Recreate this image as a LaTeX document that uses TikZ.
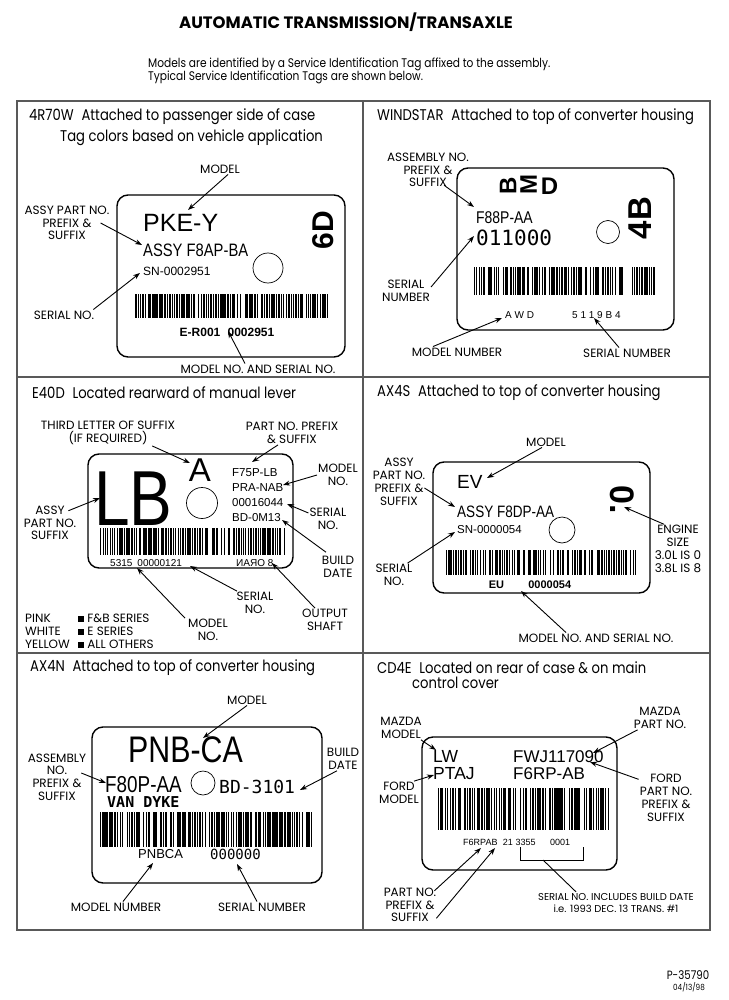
\documentclass[tikz,border=0pt]{standalone}
\usepackage{fontspec}
\usepackage{graphicx}
\usetikzlibrary{arrows.meta}
\setmainfont{Poppins}[FakeStretch=0.85]
\newfontfamily\etiqfont{Poppins}
\newfontfamily\placafont{Liberation Sans}
\newfontfamily\placaestrecha{Liberation Sans}[FakeStretch=0.82]
\newfontfamily\placamono{DejaVu Sans Mono}
\newcommand{\tam}[1]{\fontsize{#1}{#1}\selectfont}
% barras: x1, y1, x2, y2, semilla
\newcommand{\barras}[5]{%
  \pgfmathsetseed{#5}%
  \pgfmathtruncatemacro{\nbar}{(#3-#1)/1.7}%
  \foreach \k in {0,...,\nbar}{%
    \pgfmathsetmacro{\bx}{#1+\k*1.7}%
    \pgfmathsetmacro{\bw}{0.5+1.1*rnd}%
    \pgfmathtruncatemacro{\pon}{rnd<0.82 ? 1 : 0}%
    \ifnum\pon=1 \fill (\bx,#2) rectangle ({\bx+\bw},#4);\fi
  }%
}
\begin{document}
\begin{tikzpicture}[x=1pt, y=-1pt,
    marco/.style={draw=black!65, line width=2pt},
    placa/.style={draw, line width=1.4pt, rounded corners=11pt},
    agujero/.style={draw, circle, line width=0.7pt, inner sep=0pt},
    encabezado/.style={anchor=west, inner sep=0pt, font=\fontsize{15.5}{17}\selectfont},
    etiqueta/.style={align=center, inner sep=1pt, font=\etiqfont\fontsize{12}{12.8}\selectfont},
    texto/.style={anchor=west, inner sep=0pt},
    flecha/.style={-{Stealth[length=7pt,width=5pt]}, line width=0.9pt}
]
\useasboundingbox (0,0) rectangle (728,1000);

\node[font=\etiqfont\bfseries\fontsize{16.5}{18}\selectfont] (titulo) at (346,22) {AUTOMATIC TRANSMISSION/TRANSAXLE};
\node[texto, align=left, font=\fontsize{12.5}{13}\selectfont] (intro) at (148,70.5) {Models are identified by a Service Identification Tag affixed to the assembly.\\Typical Service Identification Tags are shown below.};

% marco
\draw[marco] (17,101) rectangle (710,930);
\draw[marco] (363,101) -- (363,930);
\draw[marco] (17,377) -- (710,377);
\draw[marco] (17,653) -- (710,653);

% 4R70W
\node[encabezado] (h1) at (29,117) {4R70W\hspace{0.5em}Attached to passenger side of case};
\node[encabezado] (h1b) at (60,138) {Tag colors based on vehicle application};
\node[placa, minimum width=228pt, minimum height=162pt] (t1) at (231,276) {};
\node[texto, font=\placafont\tam{25}] (pkey) at (143,223) {PKE-Y};
\node[texto, font=\placaestrecha\tam{18}] (assy1) at (143,250) {ASSY F8AP-BA};
\node[texto, font=\placafont\tam{12}] (sn1) at (143,271) {SN-0002951};
\node[agujero, minimum size=30pt] (ag1) at (268,268) {};
\node[rotate=90, inner sep=0pt, font=\placafont\bfseries\tam{30}] (seisd) at (323,230) {6D};
\barras{133}{294}{328}{318}{11}
\node[font=\placafont\bfseries\tam{12}, inner sep=0pt] (cod1) at (227,332) {E-R001\hspace{0.6em}0002951};
\node[etiqueta] (mod1) at (220,169) {MODEL};
\node[etiqueta] (apn1) at (67,223) {ASSY PART NO.\\PREFIX \&\\SUFFIX};
\node[etiqueta] (ser1) at (64,315) {SERIAL NO.};
\node[etiqueta] (mns1) at (258,369) {MODEL NO. AND SERIAL NO.};
\coordinate (p1a) at (188,210);
\coordinate (p1b) at (142,245);
\coordinate (p1c) at (140,273);
\coordinate (p1d) at (228,331);
\draw[flecha] ([xshift=8pt]mod1.south) -- (p1a);
\draw[flecha] ([xshift=-10pt]apn1.east) -- (p1b);
\draw[flecha] ([xshift=-2pt]ser1.north east) -- (p1c);
\draw[flecha] ([xshift=-13pt]mns1.north) -- (p1d);

% WINDSTAR
\node[encabezado] (h2) at (377,117) {WINDSTAR\hspace{0.5em}Attached to top of converter housing};
\node[placa, minimum width=217pt, minimum height=162pt] (t2) at (565.5,249) {};
\node[inner sep=0pt, font=\placafont\bfseries\tam{24}] (bmd) at (529,185) {\rotatebox{90}{B}\,\rotatebox{90}{M}\,D};
\node[rotate=90, inner sep=0pt, font=\placafont\bfseries\tam{33}] (cuatrob) at (640,218) {4B};
\node[texto, font=\placaestrecha\tam{17}] (f88) at (476,218) {F88P-AA};
\node[texto, font=\placamono\tam{21}] (num2) at (476,238) {011000};
\node[agujero, minimum size=23pt] (ag2) at (608,232) {};
\barras{474}{267}{657}{295}{23}
\node[texto, font=\placafont\tam{10}] (awd) at (505,315) {A W D};
\node[texto, font=\placafont\tam{10}] (sn2) at (572,315) {5 1 1 9 B 4};
\node[etiqueta] (asm2) at (428,170) {ASSEMBLY NO.\\PREFIX \&\\SUFFIX};
\node[etiqueta] (ser2) at (406,291) {SERIAL\\NUMBER};
\node[etiqueta] (mnum2) at (457,352) {MODEL NUMBER};
\node[etiqueta] (snum2) at (627,353) {SERIAL NUMBER};
\coordinate (p2a) at (474,207);
\coordinate (p2b) at (474,236);
\coordinate (p2c) at (502,318);
\coordinate (p2d) at (594,318);
\draw[flecha] ([xshift=-26pt,yshift=3pt]asm2.south east) -- (p2a);
\draw[flecha] ([yshift=4pt]ser2.east) -- (p2b);
\draw[flecha] ([xshift=-24pt]mnum2.north) -- (p2c);
\draw[flecha] ([xshift=-8pt]snum2.north) -- (p2d);

% E40D
\node[encabezado] (h3) at (32,393) {E40D\hspace{0.5em}Located rearward of manual lever};
\node[placa, minimum width=205pt, minimum height=114pt] (t3) at (190.5,511) {};
\node[texto, font=\placaestrecha\tam{78}] (lb) at (94,499) {LB};
\node[inner sep=0pt, font=\placafont\tam{33}] (letraa) at (200,470) {A};
\node[agujero, minimum size=31pt] (ag3) at (202,503) {};
\node[texto, align=left, font=\placafont\fontsize{11.5}{15}\selectfont] (datos3) at (232,495.5) {F75P-LB\\PRA-NAB\\00016044\\BD-0M13};
\barras{100}{528}{285}{555}{37}
\node[texto, font=\placafont\tam{10}] (cod3) at (110,563) {5315\hspace{0.5em}00000121};
\node[texto, font=\placafont\tam{10}] (eje3) at (236,563) {\reflectbox{8 ORAN}};
\node[etiqueta] (tl3) at (108,433) {THIRD LETTER OF SUFFIX\\(IF REQUIRED)};
\node[etiqueta] (pp3) at (292,433) {PART NO. PREFIX\\\& SUFFIX};
\node[etiqueta] (mod3) at (338,475) {MODEL\\NO.};
\node[etiqueta] (ser3) at (328,519) {SERIAL\\NO.};
\node[etiqueta] (bd3) at (338,567) {BUILD\\DATE};
\node[etiqueta] (aps3) at (50,523) {ASSY\\PART NO.\\SUFFIX};
\node[etiqueta] (ser3b) at (255,603) {SERIAL\\NO.};
\node[etiqueta] (mod3b) at (208,630) {MODEL\\NO.};
\node[etiqueta] (os3) at (325,620) {OUTPUT\\SHAFT};
\node[texto, align=left, font=\etiqfont\fontsize{12}{13}\selectfont] (col3) at (25,631) {PINK\\WHITE\\YELLOW};
\node[texto, align=left, font=\etiqfont\fontsize{12}{13}\selectfont] (sr3) at (78,631) {\rule{6pt}{6pt} F\&B SERIES\\\rule{6pt}{6pt} E SERIES\\\rule{6pt}{6pt} ALL OTHERS};
\coordinate (p3a) at (190,463);
\coordinate (p3b) at (252,462);
\coordinate (p3c) at (283,485);
\coordinate (p3d) at (287,504);
\coordinate (p3e) at (282,520);
\coordinate (p3f) at (100,498);
\coordinate (p3g) at (190,566);
\coordinate (p3h) at (137,568);
\coordinate (p3i) at (272,563);
\draw[flecha] ([xshift=-24pt]tl3.south east) -- (p3a);
\draw[flecha] ([xshift=-14pt]pp3.south) -- (p3b);
\draw[flecha] (mod3.west) -- (p3c);
\draw[flecha] ([yshift=6pt]ser3.west) -- (p3d);
\draw[flecha] ([xshift=-12pt,yshift=3pt]bd3.north) -- (p3e);
\draw[flecha] ([xshift=-9pt,yshift=-6pt]aps3.north east) -- (p3f);
\draw[flecha] ([xshift=-18pt]ser3b.north) -- (p3g);
\draw[flecha] ([xshift=-23pt]mod3b.north) -- (p3h);
\draw[flecha] ([xshift=-10pt]os3.north) -- (p3i);

% AX4S
\node[encabezado] (h4) at (377,393) {AX4S\hspace{0.5em}Attached to top of converter housing};
\node[placa, minimum width=217pt, minimum height=131pt] (t4) at (541.5,527.5) {};
\node[texto, font=\placafont\tam{19}] (ev) at (457,482) {EV};
\node[texto, font=\placaestrecha\tam{16.5}] (assy4) at (457,512) {ASSY F8DP-AA};
\node[texto, font=\placafont\tam{11.5}] (sn4) at (457,530) {SN-0000054};
\node[agujero, minimum size=26pt] (ag4) at (562,530) {};
\node[rotate=-90, inner sep=0pt, font=\placafont\bfseries\tam{34}] (cero) at (622,500) {0.};
\barras{446}{550}{636}{575}{41}
\node[font=\placafont\bfseries\tam{11}, inner sep=0pt] (cod4) at (530,585) {EU\hspace{2.2em}0000054};
\node[etiqueta] (mod4) at (546,442) {MODEL};
\node[etiqueta] (apn4) at (399,482) {ASSY\\PART NO.\\PREFIX \&\\SUFFIX};
\node[etiqueta] (ser4) at (394,575) {SERIAL\\NO.};
\node[etiqueta] (eng4) at (678,549) {ENGINE\\SIZE\\3.0L IS 0\\3.8L IS 8};
\node[etiqueta] (mns4) at (596,638) {MODEL NO. AND SERIAL NO.};
\coordinate (p4a) at (487,478);
\coordinate (p4b) at (455,507);
\coordinate (p4c) at (455,532);
\coordinate (p4d) at (624,507);
\coordinate (p4e) at (521,591);
\draw[flecha] ([xshift=-4pt]mod4.south) -- (p4a);
\draw[flecha] ([xshift=-2pt,yshift=-6pt]apn4.east) -- (p4b);
\draw[flecha] ([xshift=-6pt]ser4.north east) -- (p4c);
\draw[flecha] ([xshift=-14pt]eng4.north) -- (p4d);
\draw[flecha] ([xshift=-30pt]mns4.north) -- (p4e);

% AX4N
\node[encabezado] (h5) at (30,668) {AX4N\hspace{0.5em}Attached to top of converter housing};
\node[placa, minimum width=230pt, minimum height=156pt] (t5) at (207,805) {};
\node[texto, font=\placaestrecha\tam{37}] (pnb) at (128,750) {PNB-CA};
\node[texto, font=\placaestrecha\tam{23}] (f80) at (105,785) {F80P-AA};
\node[agujero, minimum size=24pt] (ag5) at (203,783) {};
\node[texto, font=\placamono\tam{18}] (bd5) at (219,787) {BD-3101};
\node[texto, font=\placamono\bfseries\tam{15}] (vd5) at (107,802) {VAN DYKE};
\barras{100}{812}{312}{847}{53}
\node[texto, font=\placafont\tam{13}] (pn5) at (138,854) {PNBCA};
\node[texto, font=\placamono\tam{14}] (ceros5) at (210,854) {000000};
\node[etiqueta] (mod5) at (247,700) {MODEL};
\node[etiqueta] (asm5) at (57,777) {ASSEMBLY\\NO.\\PREFIX \&\\SUFFIX};
\node[etiqueta] (bd5l) at (343,759) {BUILD\\DATE};
\node[etiqueta] (mnum5) at (116,907) {MODEL NUMBER};
\node[etiqueta] (snum5) at (262,907) {SERIAL NUMBER};
\coordinate (p5a) at (203,738);
\coordinate (p5b) at (106,783);
\coordinate (p5c) at (300,790);
\coordinate (p5d) at (153,863);
\coordinate (p5e) at (237,864);
\draw[flecha] (mod5.south) -- (p5a);
\draw[flecha] ([xshift=-6pt,yshift=4pt]asm5.east) -- (p5b);
\draw[flecha] ([xshift=-6pt]bd5l.south) -- (p5c);
\draw[flecha] ([xshift=7pt]mnum5.north) -- (p5d);
\draw[flecha] ([xshift=-5pt]snum5.north) -- (p5e);

% CD4E
\node[encabezado] (h6) at (377,668) {CD4E\hspace{0.5em}Located on rear of case \& on main};
\node[encabezado] (h6b) at (412,683) {control cover};
\node[placa, minimum width=195pt, minimum height=133pt] (t6) at (519.5,803.5) {};
\node[texto, align=left, font=\placafont\fontsize{17.5}{17}\selectfont] (lw) at (433,765) {LW\\PTAJ};
\node[texto, align=left, font=\placafont\fontsize{17}{17}\selectfont] (fwj) at (513,765) {FWJ117090\\F6RP-AB};
\barras{438}{788}{608}{830}{67}
\node[texto, font=\placafont\tam{9}] (cod6) at (463,842) {F6RPAB\hspace{0.6em}21\hspace{0.3em}3355\hspace{1.6em}0001};
\coordinate (br1) at (520,847);
\coordinate (br2) at (583,847);
\coordinate (brm) at (543,860);
\draw[line width=0.9pt] (br1) -- (520,860) -- (583,860) -- (br2);
\node[etiqueta] (mzp6) at (660,718) {MAZDA\\PART NO.};
\node[etiqueta] (mzm6) at (401,728) {MAZDA\\MODEL};
\node[etiqueta] (fm6) at (399,793) {FORD\\MODEL};
\node[etiqueta] (fp6) at (666,798) {FORD\\PART NO.\\PREFIX \&\\SUFFIX};
\node[etiqueta, font=\etiqfont\fontsize{10}{12.8}\selectfont] (sbd6) at (616,903) {SERIAL NO. INCLUDES BUILD DATE\\i.e. 1993 DEC. 13 TRANS. \#1};
\node[etiqueta] (pps6) at (410,905) {PART NO.\\PREFIX \&\\SUFFIX};
\coordinate (p6a) at (593,753);
\coordinate (p6b) at (436,750);
\coordinate (p6c) at (434,775);
\coordinate (p6d) at (590,762);
\coordinate (p6e) at (481,848);
\coordinate (p6f) at (495,848);
\draw[flecha] ([xshift=5pt]mzp6.south west) -- (p6a);
\draw[flecha] ([xshift=-2pt]mzm6.south east) -- (p6b);
\draw[flecha] ([xshift=-6pt]fm6.north east) -- (p6c);
\draw[flecha] ([yshift=-6pt]fp6.north west) -- (p6d);
\draw[line width=0.9pt] (brm) -- ([xshift=-40pt]sbd6.north);
\draw[flecha] ([xshift=-3pt,yshift=-4pt]pps6.north east) -- (p6e);
\draw[flecha] ([xshift=-1pt,yshift=5pt]pps6.south east) -- (p6f);

% pie
\node[font=\tam{12}] (plano) at (688,975) {P-35790};
\node[font=\tam{8.5}] (fecha) at (689,987) {04/13/98};
\end{tikzpicture}
\end{document}
